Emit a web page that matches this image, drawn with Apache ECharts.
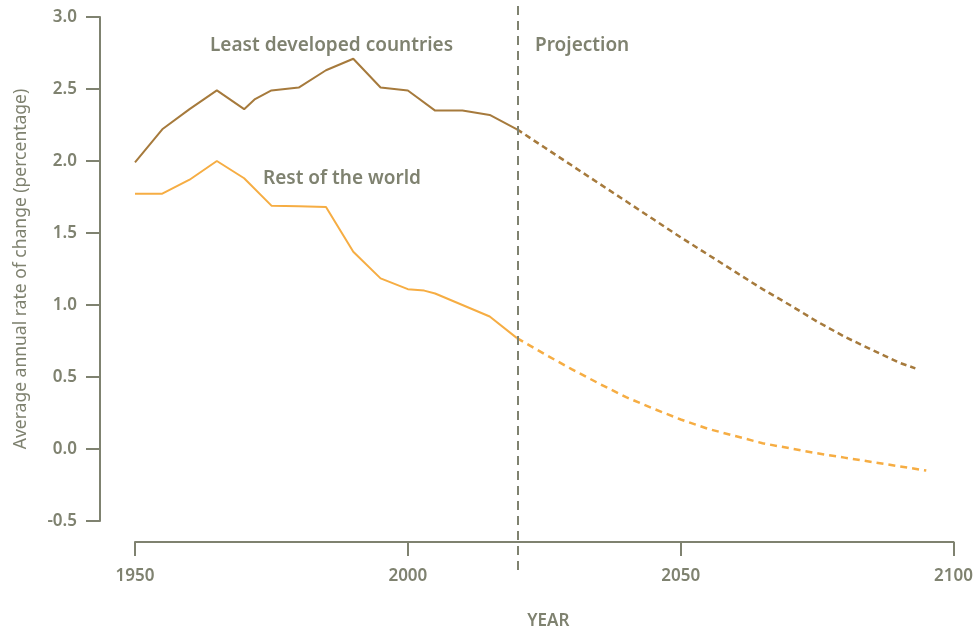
<!DOCTYPE html>
<html>
<head>
<meta charset="utf-8">
<script src="https://cdn.jsdelivr.net/npm/echarts@6/dist/echarts.min.js"></script>
<style>
html,body{margin:0;padding:0;background:#fff;}
#chart{width:976px;height:635px;}
</style>
</head>
<body>
<div id="chart"></div>
<script>
// ---- Data ----
const ldcHistory = [
  [1950, 1.99], [1955, 2.22], [1960, 2.36], [1965, 2.49], [1970, 2.36],
  [1972, 2.43], [1975, 2.49], [1980, 2.51], [1985, 2.63], [1990, 2.71],
  [1995, 2.51], [2000, 2.49], [2005, 2.35], [2010, 2.35], [2015, 2.32], [2020, 2.22]
];
const ldcProjection = [
  [2020, 2.22], [2025, 2.095], [2030, 1.97], [2035, 1.845], [2040, 1.72],
  [2045, 1.595], [2050, 1.47], [2055, 1.35], [2060, 1.23], [2065, 1.11],
  [2070, 1.00], [2075, 0.885], [2080, 0.78], [2085, 0.69], [2090, 0.60], [2093, 0.56]
];
const rowHistory = [
  [1950, 1.773], [1955, 1.773], [1960, 1.87], [1965, 2.00], [1970, 1.88],
  [1975, 1.69], [1980, 1.685], [1985, 1.68], [1990, 1.37], [1995, 1.185],
  [2000, 1.11], [2003, 1.10], [2005, 1.08], [2010, 1.00], [2015, 0.92], [2020, 0.77]
];
const rowProjection = [
  [2020, 0.77], [2025, 0.66], [2030, 0.555], [2035, 0.455], [2040, 0.36],
  [2045, 0.28], [2050, 0.205], [2055, 0.14], [2060, 0.09], [2065, 0.04],
  [2070, 0.005], [2075, -0.03], [2080, -0.06], [2085, -0.09], [2090, -0.12], [2095, -0.15]
];
const projectionYear = 2020;
const xTicks = [1950, 2000, 2050, 2100];
const yTicks = [-0.5, 0, 0.5, 1.0, 1.5, 2.0, 2.5, 3.0];
const labelLDC = 'Least developed countries';
const labelROW = 'Rest of the world';
const labelProjection = 'Projection';
const yName = 'Average annual rate of change (percentage)';
const xName = 'YEAR';

// ---- Style ----
const GREY = '#7f8270';
const BROWN = '#a67a3c';
const ORANGE = '#f6ad43';
const FONT = '"Noto Sans", sans-serif';

const chart = echarts.init(document.getElementById('chart'));
const option = {
  animation: false,
  backgroundColor: '#fff',
  textStyle: { fontFamily: FONT },
  grid: [
    { left: 135, right: 21, top: 17, bottom: 109 },
    { left: 135, right: 21, top: 5, bottom: 65 }
  ],
  xAxis: [
    {
      type: 'value', gridIndex: 0,
      min: xTicks[0], max: xTicks[xTicks.length - 1], interval: 50,
      offset: 21,
      name: xName, nameLocation: 'middle', nameGap: 71,
      nameTextStyle: { color: GREY, fontSize: 17, fontWeight: 600, fontFamily: FONT, padding: [0, 0, 0, 8] },
      axisLine: { show: true, onZero: false, lineStyle: { color: GREY, width: 2 } },
      axisTick: { show: true, length: 14, lineStyle: { color: GREY, width: 2 } },
      axisLabel: { color: GREY, fontSize: 17, fontWeight: 600, fontFamily: FONT, margin: 26,
        formatter: v => String(v) },
      splitLine: { show: false }
    },
    {
      type: 'value', gridIndex: 1, min: 1950, max: 2100, show: false
    }
  ],
  yAxis: [
    {
      type: 'value', gridIndex: 0,
      min: yTicks[0], max: yTicks[yTicks.length - 1], interval: 0.5,
      offset: 35,
      name: yName, nameLocation: 'middle', nameGap: 70,
      nameTextStyle: { color: GREY, fontSize: 17.5, fontFamily: FONT },
      axisLine: { show: true, onZero: false, lineStyle: { color: GREY, width: 2 } },
      axisTick: { show: true, length: 14, lineStyle: { color: GREY, width: 2 } },
      axisLabel: {
        color: GREY, fontSize: 17, fontWeight: 600, fontFamily: FONT, margin: 23,
        formatter: v => v.toFixed(1)
      },
      splitLine: { show: false }
    },
    { type: 'value', gridIndex: 1, min: 0, max: 1, show: false }
  ],
  series: [
    {
      name: 'ldc', type: 'line', data: ldcHistory, showSymbol: false, symbol: 'none',
      lineStyle: { color: BROWN, width: 2 }, z: 3
    },
    {
      name: 'ldcProj', type: 'line', data: ldcProjection, showSymbol: false, symbol: 'none',
      lineStyle: { color: BROWN, width: 2.5, type: [6, 4] }, z: 3
    },
    {
      name: 'row', type: 'line', data: rowHistory, showSymbol: false, symbol: 'none',
      lineStyle: { color: ORANGE, width: 2 }, z: 3
    },
    {
      name: 'rowProj', type: 'line', data: rowProjection, showSymbol: false, symbol: 'none',
      lineStyle: { color: ORANGE, width: 2.5, type: [7, 5] }, z: 3
    },
    {
      name: 'projLine', type: 'line', xAxisIndex: 1, yAxisIndex: 1, data: [],
      markLine: {
        silent: true, symbol: 'none', label: { show: false },
        lineStyle: { color: GREY, width: 2, type: [9, 6] },
        data: [{ xAxis: projectionYear }]
      }
    }
  ],
  graphic: [
    { type: 'text', left: 210, top: 36, style: { text: labelLDC, fill: GREY, font: '600 19px ' + FONT } },
    { type: 'text', left: 263, top: 169, style: { text: labelROW, fill: GREY, font: '600 19px ' + FONT } },
    { type: 'text', left: 535, top: 36, style: { text: labelProjection, fill: GREY, font: '600 19px ' + FONT } }
  ]
};
chart.setOption(option);
</script>
</body>
</html>
